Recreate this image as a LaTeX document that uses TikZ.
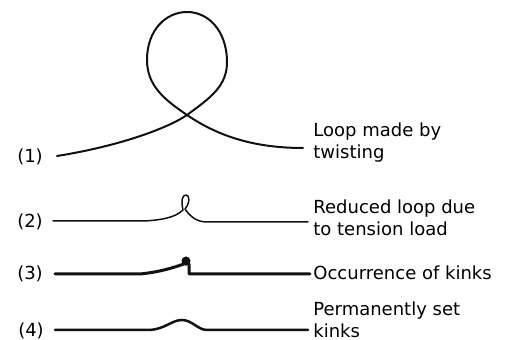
\documentclass[tikz,border=0pt]{standalone}
\usepackage{fontspec}
\setmainfont{DejaVu Sans}
\usepackage{tikz}
\usetikzlibrary{positioning}
\definecolor{ropeink}{HTML}{111111}
\tikzset{
  % --- rope strands ---
  rope/.style={draw=ropeink, line width=1pt, line cap=round, line join=round},
  ropethin/.style={rope, line width=0.75pt},
  ropethick/.style={rope, line width=1.5pt},
  % --- captions ---
  stagenum/.style={font=\fontsize{9}{11}\selectfont, inner sep=0pt},
  stagetext/.style={font=\fontsize{9}{11}\selectfont, align=left,
                    anchor=west, inner sep=0pt},
}

\begin{document}
\begin{tikzpicture}[x=0.5pt, y=-0.5pt]
  \useasboundingbox (0,0) rectangle (515,340);

  % --- (1) open loop formed by twisting ---
  \coordinate (x1) at (187,115);
  \draw[rope] (57,156) .. controls (120,146) and (168,128) .. (x1)
        .. controls (210,98) and (228,86) .. (227,60)
        .. controls (226,30) and (208,12) .. (187,12)
        .. controls (166,12) and (147,30) .. (147,60)
        .. controls (147,86) and (165,100) .. (x1)
        .. controls (215,134) and (250,148) .. (303,148);
  \node[stagenum]  (n1) at (30,157) {(1)};
  \node[stagetext] (t1) at (313,143) {Loop made by\\twisting};

  % --- (2) loop pulled small under tension ---
  \draw[ropethin] (53,221) -- (145,221)
        .. controls (160,220) and (175,218) .. (183,210)
        .. controls (181,201) and (182,195) .. (186,195)
        .. controls (190,195) and (190,203) .. (185,209)
        .. controls (190,216) and (196,222) .. (207,222) -- (308,222);
  \node[stagenum]  (n2) at (30,222) {(2)};
  \node[stagetext] (t2) at (313,218) {Reduced loop due\\to tension load};

  % --- (3) loop closed into a kink ---
  \draw[ropethick] (55,274) -- (140,274)
        .. controls (160,272) and (172,268) .. (184,264)
        -- (189,264) -- (189,274) -- (310,274);
  \fill[ropeink] (186,261) circle[radius=4.5];
  \node[stagenum]  (n3) at (30,274) {(3)};
  \node[stagetext] (t3) at (313,273) {Occurrence of kinks};

  % --- (4) kink left in the rope ---
  \draw[rope, line width=1.25pt] (55,330) -- (150,330)
        .. controls (165,329) and (172,320) .. (182,320)
        .. controls (192,320) and (198,330) .. (207,330) -- (308,330);
  \node[stagenum]  (n4) at (31,331) {(4)};
  \node[stagetext] (t4) at (313,320) {Permanently set\\kinks};
\end{tikzpicture}
\end{document}
